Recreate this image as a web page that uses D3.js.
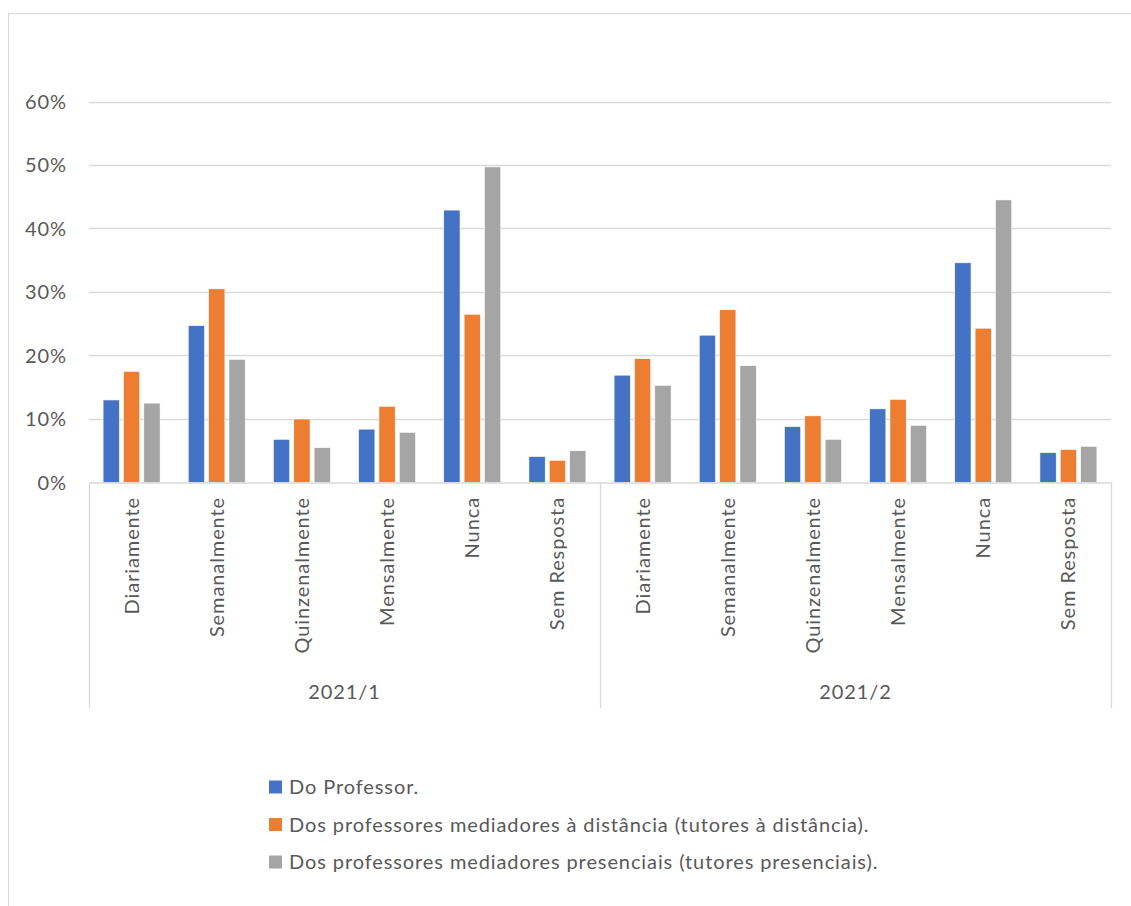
<!DOCTYPE html>
<html>
<head>
<meta charset="utf-8">
<script src="https://cdn.jsdelivr.net/npm/d3@7"></script>
<style>
  html, body { margin: 0; padding: 0; background: #fff; }
  svg text { font-family: Lato, "Open Sans", sans-serif; fill: #595959; letter-spacing: 0.9px; }
</style>
</head>
<body>
<svg id="chart" width="1131" height="906"></svg>
<script>
const periods = ["2021/1", "2021/2"];
const categories = ["Diariamente", "Semanalmente", "Quinzenalmente", "Mensalmente", "Nunca", "Sem Resposta"];
const seriesNames = [
  "Do Professor.",
  "Dos professores mediadores à distância (tutores à distância).",
  "Dos professores mediadores presenciais (tutores presenciais)."
];
const seriesColors = ["#4472C4", "#ED7D31", "#A5A5A5"];
// values per series, in order: 2021/1 categories then 2021/2 categories
const professor   = [0.130, 0.247, 0.068, 0.084, 0.429, 0.041,   0.169, 0.232, 0.088, 0.116, 0.346, 0.047];
const tutoresDist = [0.175, 0.305, 0.100, 0.120, 0.265, 0.035,   0.195, 0.272, 0.105, 0.131, 0.243, 0.052];
const tutoresPres = [0.125, 0.194, 0.055, 0.079, 0.497, 0.050,   0.153, 0.184, 0.068, 0.090, 0.445, 0.057];
const yTicks = [0, 0.1, 0.2, 0.3, 0.4, 0.5, 0.6];

(function () {
const seriesValues = [professor, tutoresDist, tutoresPres];
const svg = d3.select("#chart");
const FS = 20;

// outer chart border
svg.append("rect").attr("x", 8.5).attr("y", 13.5).attr("width", 1140).attr("height", 910)
  .attr("fill", "none").attr("stroke", "#d9d9d9").attr("stroke-width", 1);

const pLeft = 89, pRight = 1111, pTop = 101.5, pBottom = 482.5;
const slots = [];
periods.forEach((p, pi) => categories.forEach((c, ci) => slots.push(pi + "|" + ci)));

const x = d3.scaleBand().domain(slots).range([pLeft, pRight]).paddingInner(0).paddingOuter(0);
const y = d3.scaleLinear().domain([0, 0.6]).range([pBottom, pTop]);
const xs = d3.scaleBand().domain(d3.range(3)).range([-28.5, 28.5]).paddingInner(0.2);

// gridlines
svg.append("g").selectAll("line").data(yTicks.slice(1)).join("line")
  .attr("x1", pLeft).attr("x2", pRight)
  .attr("y1", d => Math.round(y(d)) + 0.5).attr("y2", d => Math.round(y(d)) + 0.5)
  .attr("stroke", "#d9d9d9").attr("stroke-width", 1.3);

// y axis labels
svg.append("g").selectAll("text").data(yTicks).join("text")
  .attr("x", 67).attr("y", d => y(d)).attr("dy", "0.36em")
  .attr("text-anchor", "end").attr("font-size", FS)
  .text(d => d3.format(".0%")(d));

// bars
const bars = svg.append("g");
seriesValues.forEach((vals, si) => {
  bars.selectAll(".s" + si).data(vals).join("rect")
    .attr("class", "s" + si)
    .attr("x", (d, i) => x(slots[i]) + x.bandwidth() / 2 + xs(si))
    .attr("width", xs.bandwidth())
    .attr("y", d => y(d))
    .attr("height", d => pBottom - y(d))
    .attr("fill", seriesColors[si])
    .attr("stroke", "#ffffff").attr("stroke-width", 0.6);
});

// category axis: baseline + group boxes
const axisG = svg.append("g");
axisG.append("line").attr("x1", pLeft).attr("x2", pRight).attr("y1", pBottom + 0.5).attr("y2", pBottom + 0.5)
  .attr("stroke", "#d9d9d9").attr("stroke-width", 1.3);
const divs = [pLeft, (pLeft + pRight) / 2, pRight];
axisG.selectAll(".div").data(divs).join("line").attr("class", "div")
  .attr("x1", d => Math.round(d) + 0.5).attr("x2", d => Math.round(d) + 0.5)
  .attr("y1", pBottom).attr("y2", 708)
  .attr("stroke", "#d9d9d9").attr("stroke-width", 1.3);

// category labels (rotated)
axisG.selectAll(".cat").data(slots).join("text").attr("class", "cat")
  .attr("transform", d => `translate(${x(d) + x.bandwidth() / 2},497) rotate(-90)`)
  .attr("text-anchor", "end").attr("dy", "0.35em").attr("font-size", FS)
  .text(d => categories[+d.split("|")[1]]);

// period labels
axisG.selectAll(".per").data(periods).join("text").attr("class", "per")
  .attr("x", (d, i) => pLeft + (pRight - pLeft) / 4 * (2 * i + 1)).attr("y", 692).attr("dy", "0.35em")
  .attr("text-anchor", "middle").attr("font-size", FS)
  .text(d => d);

// legend
const leg = svg.append("g").selectAll("g").data(seriesNames).join("g")
  .attr("transform", (d, i) => `translate(269, ${787 + i * 37.5})`);
leg.append("rect").attr("x", 0).attr("y", -6.5).attr("width", 13).attr("height", 13)
  .attr("fill", (d, i) => seriesColors[i]);
leg.append("text").attr("x", 20).attr("dy", "0.36em").attr("font-size", FS).text(d => d);
})();
</script>
</body>
</html>
